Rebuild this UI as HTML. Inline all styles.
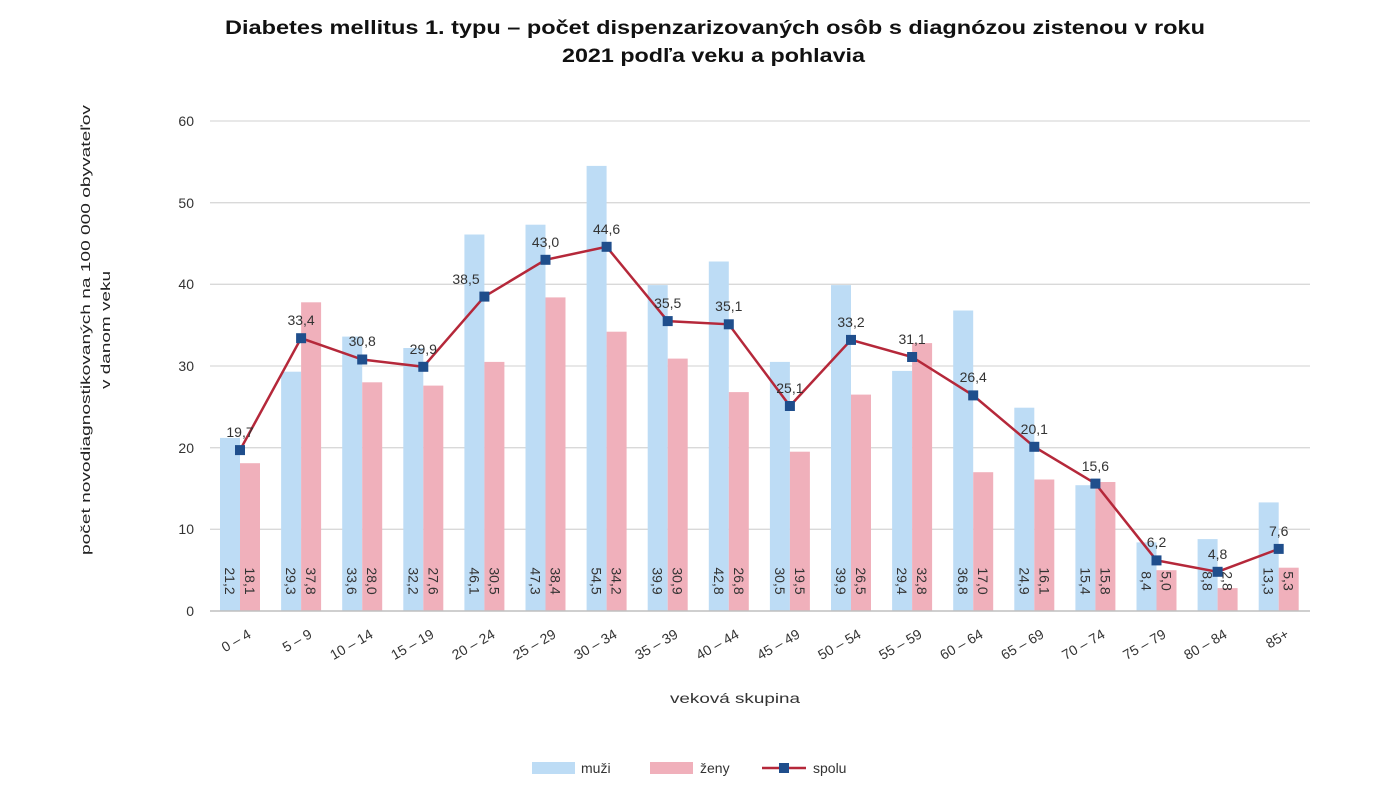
<!DOCTYPE html>
<html><head><meta charset="utf-8"><style>
body{margin:0;background:#fff;}
svg{display:block;font-family:"Liberation Sans",Arial,sans-serif;}
.lb{font-size:14px;fill:#333;}
</style></head><body>
<svg width="1376" height="792" viewBox="0 0 1376 792" xmlns="http://www.w3.org/2000/svg">
<text x="225" y="34" font-size="19" font-weight="bold" fill="#111" textLength="980" lengthAdjust="spacingAndGlyphs">Diabetes mellitus 1. typu – počet dispenzarizovaných osôb s diagnózou zistenou v roku</text>
<text x="562" y="62" font-size="19" font-weight="bold" fill="#111" textLength="303" lengthAdjust="spacingAndGlyphs">2021 podľa veku a pohlavia</text>
<g transform="translate(86,330) rotate(-90)"><text x="-225" font-size="13" fill="#222" dy="4" textLength="450" lengthAdjust="spacingAndGlyphs">počet novodiagnostikovaných na 100 000 obyvateľov</text></g>
<g transform="translate(106,330) rotate(-90)"><text x="-59" font-size="13" fill="#222" dy="4" textLength="118" lengthAdjust="spacingAndGlyphs">v danom veku</text></g>
<g stroke="#d9d9d9" stroke-width="1.3">
<line x1="210" x2="1310" y1="121" y2="121"/><line x1="210" x2="1310" y1="202.7" y2="202.7"/><line x1="210" x2="1310" y1="284.3" y2="284.3"/><line x1="210" x2="1310" y1="366" y2="366"/><line x1="210" x2="1310" y1="447.7" y2="447.7"/><line x1="210" x2="1310" y1="529.3" y2="529.3"/>
</g>
<g class="lb" text-anchor="end" font-size="14">
<text x="194" y="126">60</text><text x="194" y="208">50</text><text x="194" y="289">40</text><text x="194" y="371">30</text><text x="194" y="453">20</text><text x="194" y="534">10</text><text x="194" y="616">0</text>
</g>
<g id="bars">
<g transform="translate(240,611)"><rect x="-20" y="-173.1" width="20" height="173.1" fill="#bddcf5"/><rect x="0" y="-147.8" width="20" height="147.8" fill="#f0b0bb"/><text class="lb" transform="translate(-10,-30) rotate(90)" text-anchor="middle" dy="5">21,2</text><text class="lb" transform="translate(10,-30) rotate(90)" text-anchor="middle" dy="5">18,1</text></g>
<g transform="translate(301.1,611)"><rect x="-20" y="-239.3" width="20" height="239.3" fill="#bddcf5"/><rect x="0" y="-308.7" width="20" height="308.7" fill="#f0b0bb"/><text class="lb" transform="translate(-10,-30) rotate(90)" text-anchor="middle" dy="5">29,3</text><text class="lb" transform="translate(10,-30) rotate(90)" text-anchor="middle" dy="5">37,8</text></g>
<g transform="translate(362.2,611)"><rect x="-20" y="-274.4" width="20" height="274.4" fill="#bddcf5"/><rect x="0" y="-228.7" width="20" height="228.7" fill="#f0b0bb"/><text class="lb" transform="translate(-10,-30) rotate(90)" text-anchor="middle" dy="5">33,6</text><text class="lb" transform="translate(10,-30) rotate(90)" text-anchor="middle" dy="5">28,0</text></g>
<g transform="translate(423.3,611)"><rect x="-20" y="-263" width="20" height="263" fill="#bddcf5"/><rect x="0" y="-225.4" width="20" height="225.4" fill="#f0b0bb"/><text class="lb" transform="translate(-10,-30) rotate(90)" text-anchor="middle" dy="5">32,2</text><text class="lb" transform="translate(10,-30) rotate(90)" text-anchor="middle" dy="5">27,6</text></g>
<g transform="translate(484.4,611)"><rect x="-20" y="-376.5" width="20" height="376.5" fill="#bddcf5"/><rect x="0" y="-249.1" width="20" height="249.1" fill="#f0b0bb"/><text class="lb" transform="translate(-10,-30) rotate(90)" text-anchor="middle" dy="5">46,1</text><text class="lb" transform="translate(10,-30) rotate(90)" text-anchor="middle" dy="5">30,5</text></g>
<g transform="translate(545.5,611)"><rect x="-20" y="-386.3" width="20" height="386.3" fill="#bddcf5"/><rect x="0" y="-313.6" width="20" height="313.6" fill="#f0b0bb"/><text class="lb" transform="translate(-10,-30) rotate(90)" text-anchor="middle" dy="5">47,3</text><text class="lb" transform="translate(10,-30) rotate(90)" text-anchor="middle" dy="5">38,4</text></g>
<g transform="translate(606.6,611)"><rect x="-20" y="-445.1" width="20" height="445.1" fill="#bddcf5"/><rect x="0" y="-279.3" width="20" height="279.3" fill="#f0b0bb"/><text class="lb" transform="translate(-10,-30) rotate(90)" text-anchor="middle" dy="5">54,5</text><text class="lb" transform="translate(10,-30) rotate(90)" text-anchor="middle" dy="5">34,2</text></g>
<g transform="translate(667.7,611)"><rect x="-20" y="-325.9" width="20" height="325.9" fill="#bddcf5"/><rect x="0" y="-252.4" width="20" height="252.4" fill="#f0b0bb"/><text class="lb" transform="translate(-10,-30) rotate(90)" text-anchor="middle" dy="5">39,9</text><text class="lb" transform="translate(10,-30) rotate(90)" text-anchor="middle" dy="5">30,9</text></g>
<g transform="translate(728.8,611)"><rect x="-20" y="-349.5" width="20" height="349.5" fill="#bddcf5"/><rect x="0" y="-218.9" width="20" height="218.9" fill="#f0b0bb"/><text class="lb" transform="translate(-10,-30) rotate(90)" text-anchor="middle" dy="5">42,8</text><text class="lb" transform="translate(10,-30) rotate(90)" text-anchor="middle" dy="5">26,8</text></g>
<g transform="translate(789.9,611)"><rect x="-20" y="-249.1" width="20" height="249.1" fill="#bddcf5"/><rect x="0" y="-159.3" width="20" height="159.3" fill="#f0b0bb"/><text class="lb" transform="translate(-10,-30) rotate(90)" text-anchor="middle" dy="5">30,5</text><text class="lb" transform="translate(10,-30) rotate(90)" text-anchor="middle" dy="5">19,5</text></g>
<g transform="translate(851,611)"><rect x="-20" y="-325.9" width="20" height="325.9" fill="#bddcf5"/><rect x="0" y="-216.4" width="20" height="216.4" fill="#f0b0bb"/><text class="lb" transform="translate(-10,-30) rotate(90)" text-anchor="middle" dy="5">39,9</text><text class="lb" transform="translate(10,-30) rotate(90)" text-anchor="middle" dy="5">26,5</text></g>
<g transform="translate(912.1,611)"><rect x="-20" y="-240.1" width="20" height="240.1" fill="#bddcf5"/><rect x="0" y="-267.9" width="20" height="267.9" fill="#f0b0bb"/><text class="lb" transform="translate(-10,-30) rotate(90)" text-anchor="middle" dy="5">29,4</text><text class="lb" transform="translate(10,-30) rotate(90)" text-anchor="middle" dy="5">32,8</text></g>
<g transform="translate(973.2,611)"><rect x="-20" y="-300.5" width="20" height="300.5" fill="#bddcf5"/><rect x="0" y="-138.8" width="20" height="138.8" fill="#f0b0bb"/><text class="lb" transform="translate(-10,-30) rotate(90)" text-anchor="middle" dy="5">36,8</text><text class="lb" transform="translate(10,-30) rotate(90)" text-anchor="middle" dy="5">17,0</text></g>
<g transform="translate(1034.3,611)"><rect x="-20" y="-203.3" width="20" height="203.3" fill="#bddcf5"/><rect x="0" y="-131.5" width="20" height="131.5" fill="#f0b0bb"/><text class="lb" transform="translate(-10,-30) rotate(90)" text-anchor="middle" dy="5">24,9</text><text class="lb" transform="translate(10,-30) rotate(90)" text-anchor="middle" dy="5">16,1</text></g>
<g transform="translate(1095.4,611)"><rect x="-20" y="-125.8" width="20" height="125.8" fill="#bddcf5"/><rect x="0" y="-129" width="20" height="129" fill="#f0b0bb"/><text class="lb" transform="translate(-10,-30) rotate(90)" text-anchor="middle" dy="5">15,4</text><text class="lb" transform="translate(10,-30) rotate(90)" text-anchor="middle" dy="5">15,8</text></g>
<g transform="translate(1156.5,611)"><rect x="-20" y="-68.6" width="20" height="68.6" fill="#bddcf5"/><rect x="0" y="-40.8" width="20" height="40.8" fill="#f0b0bb"/><text class="lb" transform="translate(-10,-30) rotate(90)" text-anchor="middle" dy="5">8,4</text><text class="lb" transform="translate(10,-30) rotate(90)" text-anchor="middle" dy="5">5,0</text></g>
<g transform="translate(1217.6,611)"><rect x="-20" y="-71.9" width="20" height="71.9" fill="#bddcf5"/><rect x="0" y="-22.9" width="20" height="22.9" fill="#f0b0bb"/><text class="lb" transform="translate(-10,-30) rotate(90)" text-anchor="middle" dy="5">8,8</text><text class="lb" transform="translate(10,-30) rotate(90)" text-anchor="middle" dy="5">2,8</text></g>
<g transform="translate(1278.7,611)"><rect x="-20" y="-108.6" width="20" height="108.6" fill="#bddcf5"/><rect x="0" y="-43.3" width="20" height="43.3" fill="#f0b0bb"/><text class="lb" transform="translate(-10,-30) rotate(90)" text-anchor="middle" dy="5">13,3</text><text class="lb" transform="translate(10,-30) rotate(90)" text-anchor="middle" dy="5">5,3</text></g>
</g>
<line x1="210" x2="1310" y1="611" y2="611" stroke="#bfbfbf" stroke-width="1.5"/>
<polyline fill="none" stroke="#b5283a" stroke-width="2.5" points="240,450.1 301.1,338.2 362.2,359.5 423.3,366.8 484.4,296.6 545.5,259.8 606.6,246.8 667.7,321.1 728.8,324.3 789.9,406 851,339.9 912.1,357 973.2,395.4 1034.3,446.8 1095.4,483.6 1156.5,560.4 1217.6,571.8 1278.7,548.9"/>
<g fill="#1f4e8c">
<rect x="235" y="445.1" width="10" height="10"/><rect x="296.1" y="333.2" width="10" height="10"/><rect x="357.2" y="354.5" width="10" height="10"/><rect x="418.3" y="361.8" width="10" height="10"/><rect x="479.4" y="291.6" width="10" height="10"/><rect x="540.5" y="254.8" width="10" height="10"/><rect x="601.6" y="241.8" width="10" height="10"/><rect x="662.7" y="316.1" width="10" height="10"/><rect x="723.8" y="319.3" width="10" height="10"/><rect x="784.9" y="401" width="10" height="10"/><rect x="846" y="334.9" width="10" height="10"/><rect x="907.1" y="352" width="10" height="10"/><rect x="968.2" y="390.4" width="10" height="10"/><rect x="1029.3" y="441.8" width="10" height="10"/><rect x="1090.4" y="478.6" width="10" height="10"/><rect x="1151.5" y="555.4" width="10" height="10"/><rect x="1212.6" y="566.8" width="10" height="10"/><rect x="1273.7" y="543.9" width="10" height="10"/>
</g>
<g class="lb" text-anchor="middle">
<text x="240" y="437">19,7</text><text x="301.1" y="325">33,4</text><text x="362.2" y="346">30,8</text><text x="423.3" y="354">29,9</text><text x="466" y="284">38,5</text><text x="545.5" y="247">43,0</text><text x="606.6" y="234">44,6</text><text x="667.7" y="308">35,5</text><text x="728.8" y="311">35,1</text><text x="789.9" y="393">25,1</text><text x="851" y="327">33,2</text><text x="912.1" y="344">31,1</text><text x="973.2" y="382">26,4</text><text x="1034.3" y="434">20,1</text><text x="1095.4" y="471">15,6</text><text x="1156.5" y="547">6,2</text><text x="1217.6" y="559">4,8</text><text x="1278.7" y="536">7,6</text>
</g>
<g class="lb" text-anchor="end">
<g transform="translate(248,630) rotate(-30)"><text dy="8">0 – 4</text></g>
<g transform="translate(309,630) rotate(-30)"><text dy="8">5 – 9</text></g>
<g transform="translate(370,630) rotate(-30)"><text dy="8">10 – 14</text></g>
<g transform="translate(431,630) rotate(-30)"><text dy="8">15 – 19</text></g>
<g transform="translate(492,630) rotate(-30)"><text dy="8">20 – 24</text></g>
<g transform="translate(553,630) rotate(-30)"><text dy="8">25 – 29</text></g>
<g transform="translate(614,630) rotate(-30)"><text dy="8">30 – 34</text></g>
<g transform="translate(675,630) rotate(-30)"><text dy="8">35 – 39</text></g>
<g transform="translate(736,630) rotate(-30)"><text dy="8">40 – 44</text></g>
<g transform="translate(797,630) rotate(-30)"><text dy="8">45 – 49</text></g>
<g transform="translate(858,630) rotate(-30)"><text dy="8">50 – 54</text></g>
<g transform="translate(919,630) rotate(-30)"><text dy="8">55 – 59</text></g>
<g transform="translate(980,630) rotate(-30)"><text dy="8">60 – 64</text></g>
<g transform="translate(1041,630) rotate(-30)"><text dy="8">65 – 69</text></g>
<g transform="translate(1102,630) rotate(-30)"><text dy="8">70 – 74</text></g>
<g transform="translate(1163,630) rotate(-30)"><text dy="8">75 – 79</text></g>
<g transform="translate(1224,630) rotate(-30)"><text dy="8">80 – 84</text></g>
<g transform="translate(1286,630) rotate(-30)"><text dy="8">85+</text></g>
</g>
<text x="670" y="703" font-size="14" fill="#333" textLength="130" lengthAdjust="spacingAndGlyphs">veková skupina</text>
<rect x="532" y="762" width="43" height="12" fill="#bddcf5"/><text x="581" y="773" font-size="14" fill="#333">muži</text>
<rect x="650" y="762" width="43" height="12" fill="#f0b0bb"/><text x="700" y="773" font-size="14" fill="#333">ženy</text>
<line x1="762" x2="806" y1="768" y2="768" stroke="#b5283a" stroke-width="2.5"/><rect x="779" y="763" width="10" height="10" fill="#1f4e8c"/><text x="813" y="773" font-size="14" fill="#333">spolu</text>
</svg>
</body></html>
